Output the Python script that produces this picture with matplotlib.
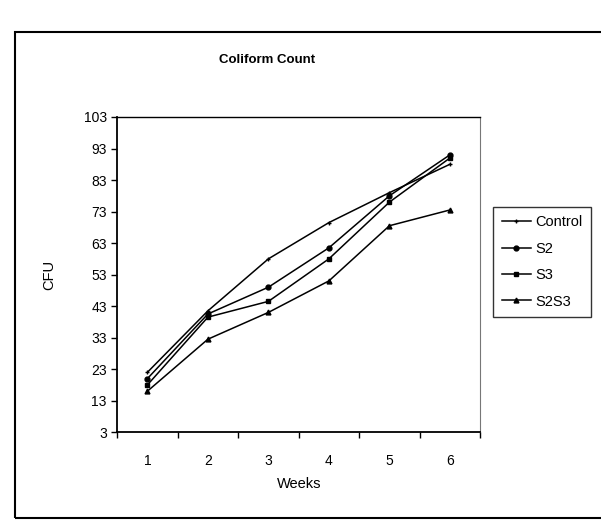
import numpy as np
import matplotlib.pyplot as plt
from matplotlib.patches import Rectangle

# datos ----------------------------------------------------------------

weeks    = [1, 2, 3, 4, 5, 6]
control  = [22, 41.5, 58, 69.5, 79, 88]
s2       = [20, 40.5, 49, 61.5, 78, 91]
s3       = [18, 39.5, 44.5, 58, 76, 90]
s2s3     = [16, 32.5, 41, 51, 68.5, 73.5]
series   = ["Control", "S2", "S3", "S2S3"]
yticks   = [3, 13, 23, 33, 43, 53, 63, 73, 83, 93, 103]

plt.rcParams["font.family"] = ["Liberation Sans", "DejaVu Sans"]

fig = plt.figure(figsize=(6.01, 5.27), dpi=100)
ax = fig.add_axes([0.195, 0.18, 0.604, 0.598])

markers = ["+", "o", "s", "^"]
for vals, name, mk in zip([control, s2, s3, s2s3], series, markers):
    ax.plot(weeks, vals, color="black", lw=1.1, marker=mk, ms=3.5,
            mew=1.0, label=name)

ax.set_xlim(0.5, 6.5)
ax.set_ylim(3, 103)
ax.set_yticks(yticks)
ax.set_xticks(weeks)
ax.set_xticks(np.arange(0.5, 6.6, 1), minor=True)
ax.tick_params(axis="x", which="major", length=0, pad=16, labelsize=10)
ax.tick_params(axis="x", which="minor", length=4, width=1.0, direction="out")
ax.tick_params(axis="y", length=4, width=1.0, direction="out", labelsize=10)

ax.spines["left"].set_linewidth(1.3)
ax.spines["bottom"].set_linewidth(1.3)
ax.spines["top"].set_linewidth(1.0)
ax.spines["right"].set_linewidth(0.8)
ax.spines["right"].set_color("#777777")

ax.set_xlabel("Weeks", fontsize=10.5, labelpad=6)
ax.set_ylabel("CFU", fontsize=10.5, labelpad=20)

fig.text(0.444, 0.886, "Coliform Count", ha="center", va="center",
         fontsize=9.5, fontweight="bold")

leg = ax.legend(loc="center left", bbox_to_anchor=(1.015, 0.54),
                frameon=True, fancybox=False, edgecolor="black",
                fontsize=10.5, handlelength=2.0, handletextpad=0.3,
                borderpad=0.6, labelspacing=0.85)
leg.get_frame().set_linewidth(1.0)

# marco exterior del grafico
fig.patches.append(Rectangle((0.025, 0.017), 1.0, 0.923,
                             transform=fig.transFigure, fill=False,
                             edgecolor="black", lw=1.5, clip_on=False))

fig.savefig("out.png", dpi=100)
